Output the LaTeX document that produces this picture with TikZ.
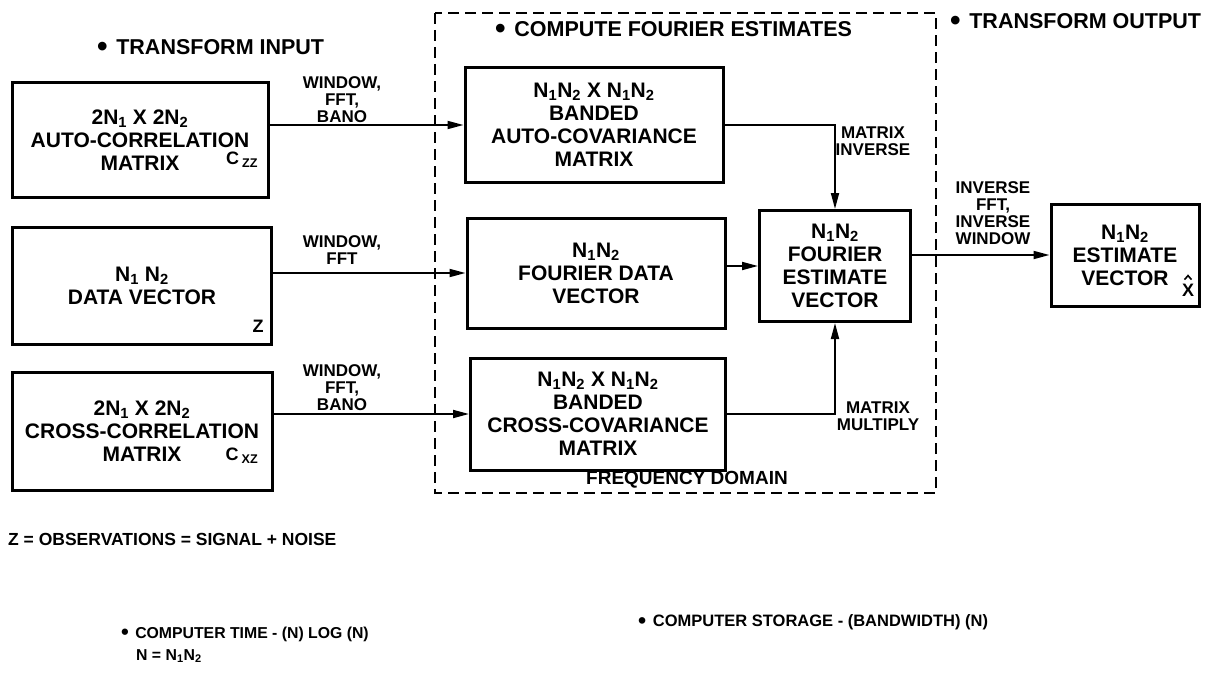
\documentclass[tikz,border=0pt]{standalone}
\usepackage{fontspec}
\setmainfont{Liberation Sans}
\usepackage{tikz}
\usetikzlibrary{positioning,arrows.meta}
\newcommand{\NN}{N\textsubscript{1}N\textsubscript{2}}
\newcommand{\bulit}{\raisebox{-0.12em}{\scalebox{1.4}{•}}\hspace{0.4em}}

\begin{document}
\begin{tikzpicture}[x=1pt,y=-1pt,font=\bfseries]
  \tikzset{
    blk/.style={draw,line width=3pt,inner sep=0pt,align=center,
                font=\fontsize{21}{23}\selectfont\bfseries},
    lbl/.style={align=center,inner sep=0pt,
                font=\fontsize{17}{17}\selectfont\bfseries},
    head/.style={anchor=west,inner sep=0pt,font=\fontsize{21.5}{24}\selectfont\bfseries},
    note/.style={anchor=west,inner sep=0pt,font=\fontsize{16.5}{20}\selectfont\bfseries},
    subtag/.style={inner sep=0pt,align=center,font=\fontsize{18}{18}\selectfont\bfseries},
    conn/.style={line width=1.8pt,-{Triangle[length=16pt,width=8pt]}},
  }
  \useasboundingbox (0,0) rectangle (1208,677);
  % ---- headings ----
  \node[head] (hin) at (97,48) {\bulit TRANSFORM INPUT};
  \node[head] (hcomp) at (495,30) {\bulit COMPUTE FOURIER ESTIMATES};
  \node[head] (hout) at (950,22) {\bulit TRANSFORM OUTPUT};
  % ---- frequency domain frame ----
  \draw[line width=2.8pt,dash pattern=on 11pt off 6pt] (435,13) rectangle (936,493);
  \node[lbl,font=\fontsize{19}{20}\selectfont\bfseries] (lfreq) at (687,480) {FREQUENCY DOMAIN};
  % ---- input blocks ----
  \node[blk,minimum width=256pt,minimum height=114pt] (A) at (140,140)
       {2N\textsubscript{1} X 2N\textsubscript{2}\\AUTO-CORRELATION\\MATRIX};
  \node[subtag] (czz) at (242,160) {C\,\textsubscript{ZZ}};
  \node[blk,minimum width=259pt,minimum height=117pt] (D) at (142,286)
       {N\textsubscript{1} N\textsubscript{2}\\DATA VECTOR};
  \node[subtag] (zz) at (258,326) {Z};
  \node[blk,minimum width=260pt,minimum height=118pt] (C) at (142,431)
       {2N\textsubscript{1} X 2N\textsubscript{2}\\CROSS-CORRELATION\\MATRIX};
  \node[subtag] (cxz) at (242,456) {C\,\textsubscript{XZ}};
  % ---- frequency domain blocks ----
  \node[blk,minimum width=258pt,minimum height=115pt] (AC) at (594,125)
       {\NN\ X \NN\\BANDED\\AUTO-COVARIANCE\\MATRIX};
  \node[blk,minimum width=258pt,minimum height=110pt] (FD) at (596,273)
       {\NN\\FOURIER DATA\\VECTOR};
  \node[blk,minimum width=255pt,minimum height=112pt] (CC) at (598,414)
       {\NN\ X \NN\\BANDED\\CROSS-COVARIANCE\\MATRIX};
  \node[blk,minimum width=151pt,minimum height=111pt] (FE) at (835,266)
       {\NN\\FOURIER\\ESTIMATE\\VECTOR};
  % ---- output block ----
  \node[blk,minimum width=148pt,minimum height=102pt] (EV) at (1125,255)
       {\NN\\ESTIMATE\\VECTOR};
  \node[subtag] (xhat) at (1188,290) {X};
  \draw[line width=1.6pt] ([shift={(-3.5pt,4pt)}]xhat.north)
       -- ([shift={(0pt,8pt)}]xhat.north) -- ([shift={(3.5pt,4pt)}]xhat.north);
  % ---- connectors ----
  \draw[conn] (AC.west -| A.east) -- (AC.west);
  \draw[conn] (FD.west -| D.east) -- (FD.west);
  \draw[conn] (CC.west -| C.east) -- (CC.west);
  \draw[conn] (AC.east) -| (FE.north);
  \draw[conn] (FD.east |- FE.west) -- (FE.west);
  \draw[conn] (CC.east) -| (FE.south);
  \draw[conn] (FE.east |- EV.west) -- (EV.west);
  % ---- connector labels ----
  \node[lbl] (lwa) at (342,100) {WINDOW,\\FFT,\\BANO};
  \node[lbl] (lwd) at (342,250) {WINDOW,\\FFT};
  \node[lbl] (lwc) at (342,388) {WINDOW,\\FFT,\\BANO};
  \node[lbl] (lmi) at (873,141) {MATRIX\\INVERSE};
  \node[lbl] (lmm) at (878,416) {MATRIX\\MULTIPLY};
  \node[lbl] (linv) at (993,213) {INVERSE\\FFT,\\INVERSE\\WINDOW};
  % ---- notes ----
  \node[note,font=\fontsize{17.5}{20}\selectfont\bfseries] (nobs) at (8,539)
       {Z = OBSERVATIONS = SIGNAL + NOISE};
  \node[note,font=\fontsize{15.8}{20}\selectfont\bfseries] (ntime) at (121,634)
       {\bulit COMPUTER TIME - (N) LOG (N)};
  \node[note,font=\fontsize{15.8}{20}\selectfont\bfseries] (nn) at (136,656) {N = \NN};
  \node[note] (nstore) at (638,622) {\bulit COMPUTER STORAGE - (BANDWIDTH) (N)};
\end{tikzpicture}
\end{document}
